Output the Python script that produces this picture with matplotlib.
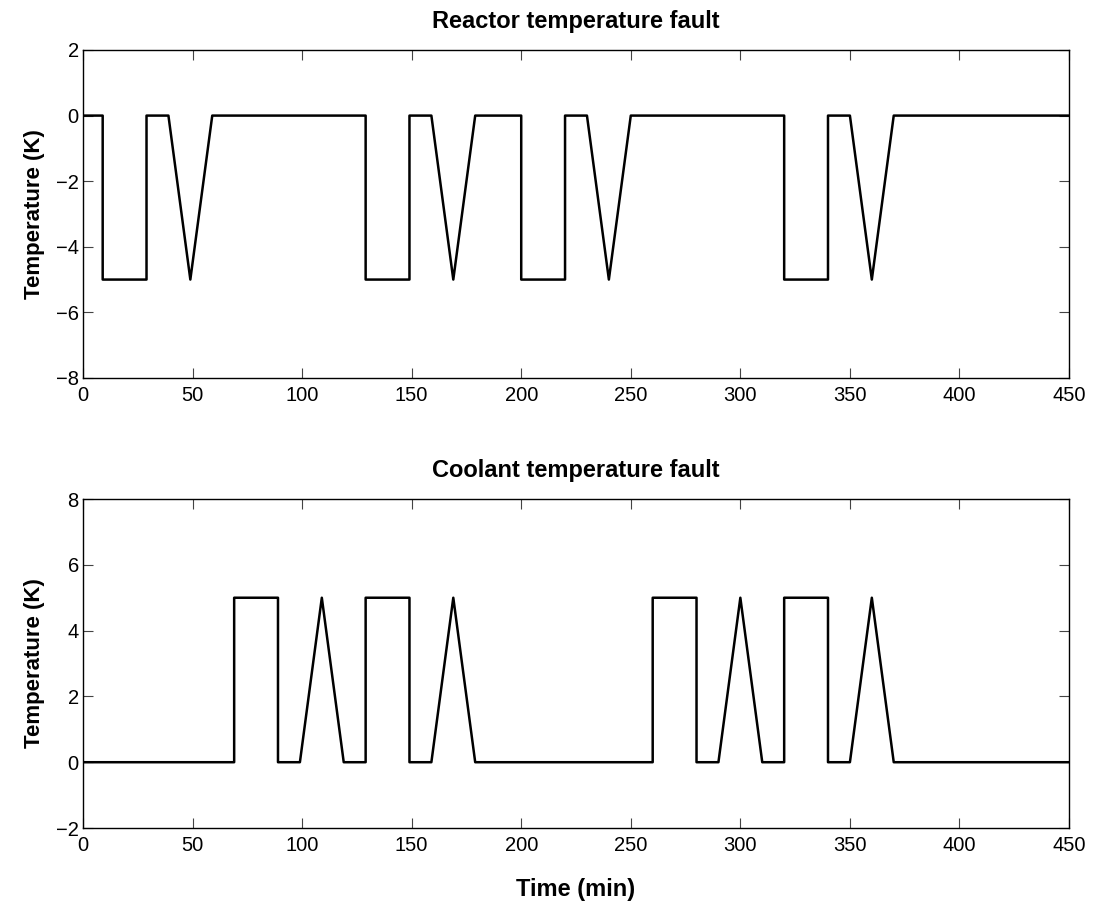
import matplotlib.pyplot as plt

plt.rcParams["font.family"] = ["Liberation Sans", "DejaVu Sans"]

# fault profiles as (time, value) breakpoints
reactor_t = [0, 9, 9, 29, 29, 39, 49, 59,
             129, 129, 149, 149, 159, 169, 179,
             200, 200, 220, 220, 230, 240, 250,
             320, 320, 340, 340, 350, 360, 370, 450]
reactor_y = [0, 0, -5, -5, 0, 0, -5, 0,
             0, -5, -5, 0, 0, -5, 0,
             0, -5, -5, 0, 0, -5, 0,
             0, -5, -5, 0, 0, -5, 0, 0]

coolant_t = [0, 69, 69, 89, 89, 99, 109, 119,
             129, 129, 149, 149, 159, 169, 179,
             260, 260, 280, 280, 290, 300, 310,
             320, 320, 340, 340, 350, 360, 370, 450]
coolant_y = [0, 0, 5, 5, 0, 0, 5, 0,
             0, 5, 5, 0, 0, 5, 0,
             0, 5, 5, 0, 0, 5, 0,
             0, 5, 5, 0, 0, 5, 0, 0]

xticks = list(range(0, 451, 50))


def style(ax, yticks):
    ax.set_xlim(0, 450)
    ax.set_ylim(yticks[0], yticks[-1])
    ax.set_xticks(xticks)
    ax.set_yticks(yticks)
    ax.set_yticklabels([str(v).replace("-", "\u2212") for v in yticks])
    ax.tick_params(direction="in", length=7, width=0.8, top=True, right=True,
                   labelsize=14.5, color="#444444")
    ax.tick_params(axis="x", pad=6)
    ax.tick_params(axis="y", pad=3)
    for s in ax.spines.values():
        s.set_linewidth(1.0)
    ax.set_ylabel("Temperature (K)", fontsize=16, fontweight="bold", labelpad=8)


fig = plt.figure(figsize=(10.96, 9.09), dpi=100)
ax1 = fig.add_axes([0.0757, 0.5842, 0.8997, 0.3608])
ax2 = fig.add_axes([0.0757, 0.0891, 0.8997, 0.3619])

ax1.plot(reactor_t, reactor_y, color="black", linewidth=1.8)
style(ax1, [-8, -6, -4, -2, 0, 2])
ax1.set_title("Reactor temperature fault", fontsize=17, fontweight="bold", pad=16)

ax2.plot(coolant_t, coolant_y, color="black", linewidth=1.8)
style(ax2, [-2, 0, 2, 4, 6, 8])
ax2.set_title("Coolant temperature fault", fontsize=17, fontweight="bold", pad=16)
ax2.set_xlabel("Time (min)", fontsize=17, fontweight="bold", labelpad=16)

fig.savefig("out.png", dpi=100)
